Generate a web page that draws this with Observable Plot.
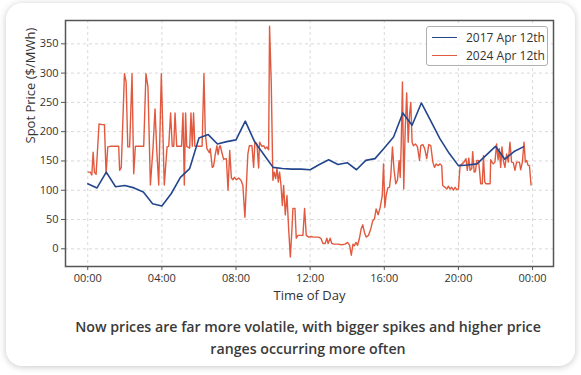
<!DOCTYPE html>
<html><head><meta charset="utf-8">
<script src="https://cdn.jsdelivr.net/npm/d3@7"></script>
<script src="https://cdn.jsdelivr.net/npm/@observablehq/plot@0.6"></script>
<style>
body{margin:0;background:#fff;font-family:"Open Sans",sans-serif;}
#wrap{position:relative;width:581px;height:375px;overflow:hidden;}
#card{position:absolute;left:6px;top:3px;width:569px;height:363px;border-radius:16px;background:#fff;box-shadow:0 1px 7px rgba(0,0,0,0.22);}
#chart{position:absolute;left:0;top:0;}
#legend{position:absolute;left:426px;top:26px;width:120px;height:38px;border:1px solid #b0b0b0;border-radius:3px;background:rgba(255,255,255,0.85);font-size:12px;color:#333;}
.row{position:absolute;left:0;height:18px;display:flex;align-items:center;white-space:nowrap;}
.sw{width:25px;height:0;border-top:1.6px solid;margin-left:5px;margin-right:9px;}
#caption{position:absolute;left:68px;width:480px;top:316px;text-align:center;font-size:14.2px;line-height:22px;color:#3a3a3a;font-weight:600;}
</style></head><body>
<div id="wrap">
  <div id="card"></div>
  <div id="chart"></div>
  <div id="legend"></div>
  <div id="caption">Now prices are far more volatile, with bigger spikes and higher price ranges occurring more often</div>
</div>
<script>
// Series names & colours
const seriesNames = ["2017 Apr 12th", "2024 Apr 12th"];
const seriesColors = ["#23468c", "#e15a3f"];

// 2017 Apr 12th (hour of day, $/MWh)
const t2017 = [0,0.5,1,1.5,2,2.5,3,3.5,4,4.5,5,5.5,6,6.5,7,7.5,8,8.5,9,9.5,10,10.5,11,11.5,12,12.5,13,13.5,14,14.5,15,15.5,16,16.5,17,17.5,18,18.5,19,19.5,20,20.5,21,21.5,22,22.5,23,23.5];
const p2017 = [111,104,131,106,108,104,97,77,73,94,122,137,189,195,179,183,186,218,183,161,139,137,136,136,135,144,152,144,147,135,151,154,172,191,232,211,249,219,188,163,142,143,145,160,175,153,166,174];

// 2024 Apr 12th (hour of day, $/MWh)
const t2024 = [0.02,0.14,0.22,0.29,0.36,0.45,0.61,0.77,0.9,0.99,1.08,1.22,1.67,1.72,1.81,1.98,2.07,2.16,2.26,2.39,2.48,2.57,3.02,3.14,3.25,3.38,3.52,3.63,3.72,3.83,3.97,4.13,4.28,4.37,4.47,4.56,4.64,4.71,4.8,5.06,5.14,5.21,5.28,5.34,5.5,5.57,5.64,5.71,5.78,6.17,6.27,6.34,6.43,6.56,6.61,6.72,6.79,6.88,6.97,7.03,7.1,7.15,7.24,7.33,7.48,7.57,7.66,7.75,7.84,7.91,8.02,8.14,8.27,8.37,8.48,8.55,8.64,8.72,8.86,8.95,9.02,9.13,9.22,9.27,9.4,9.5,9.58,9.67,9.76,9.81,9.9,9.99,10.06,10.14,10.21,10.28,10.35,10.42,10.5,10.57,10.66,10.75,10.84,10.93,11.02,11.07,11.18,11.25,11.34,11.61,11.7,11.79,11.92,12.04,12.18,12.33,12.45,12.58,12.69,12.81,12.9,12.97,13.08,13.17,13.3,13.48,13.71,13.89,14.02,14.13,14.22,14.31,14.38,14.47,14.56,14.66,14.75,14.84,14.93,15.02,15.15,15.27,15.38,15.47,15.56,15.67,15.78,15.89,15.96,16.03,16.1,16.19,16.28,16.35,16.44,16.53,16.62,16.71,16.8,16.86,16.91,16.98,17.05,17.13,17.21,17.29,17.36,17.43,17.5,17.57,17.68,17.79,17.9,17.97,18.08,18.18,18.29,18.4,18.51,18.62,18.71,18.8,18.9,19.01,19.1,19.15,19.28,19.37,19.46,19.55,19.64,19.73,19.82,19.91,20.0,20.09,20.2,20.3,20.41,20.48,20.56,20.63,20.72,20.77,20.85,20.92,20.99,21.08,21.13,21.2,21.29,21.35,21.42,21.49,21.71,21.74,21.81,21.88,21.97,22.06,22.14,22.21,22.28,22.35,22.42,22.51,22.6,22.69,22.78,22.87,22.96,23.05,23.14,23.29,23.36,23.45,23.54,23.61,23.68,23.75,23.83,23.92];
const p2024 = [131,131,126,165,131,127,213,212,212,128,174,175,175,134,139,299,285,174,174,299,128,175,175,299,276,109,171,239,171,109,299,109,174,175,232,175,175,232,175,175,232,109,232,175,172,232,175,232,175,175,299,199,171,164,171,139,141,161,176,161,174,176,164,153,154,100,168,121,118,122,118,121,117,108,54,102,162,176,176,139,183,179,138,182,175,176,171,174,169,380,285,117,131,120,137,114,131,111,74,108,58,91,34,-14,34,69,69,18,23,23,69,23,20,21,20,20,20,18,9,9,18,9,18,9,8,8,7,8,11,6,-11,8,5,11,6,18,34,41,28,20,23,34,48,51,68,58,71,91,145,71,91,104,105,124,174,134,111,117,151,122,174,285,102,205,266,182,228,250,182,176,179,174,151,176,178,171,154,178,176,148,139,145,142,145,142,108,105,102,107,102,105,100,105,101,102,142,145,148,154,134,155,134,137,166,131,132,151,151,137,111,111,159,114,111,111,152,148,145,148,179,152,171,139,174,151,139,162,148,182,148,147,134,148,148,135,148,182,148,151,143,142,109];

// Axis ticks & labels
const xTicks = [0,4,8,12,16,20,24];
const xTickLabels = ["00:00","04:00","08:00","12:00","16:00","20:00","00:00"];
const yTicks = [0,50,100,150,200,250,300,350];
const xLabel = "Time of Day";
const yLabel = "Spot Price ($/MWh)";

const d2017 = t2017.map((t,i)=>({t, v:p2017[i], s:seriesNames[0]}));
const d2024 = t2024.map((t,i)=>({t, v:p2024[i], s:seriesNames[1]}));

const chart = Plot.plot({
  width: 581,
  height: 310,
  marginLeft: 65,
  marginRight: 28,
  marginTop: 20,
  marginBottom: 44,
  style: {fontFamily: '"Open Sans", sans-serif', fontSize: "11px", color: "#333", background: "transparent", overflow: "visible"},
  x: {domain: [-1.2, 25.13]},
  y: {domain: [-30.2, 389.8]},
  marks: [
    Plot.gridX(xTicks, {stroke: "#cfcfcf", strokeOpacity: 1, strokeDasharray: "3,3", strokeWidth: 0.8}),
    Plot.gridY(yTicks, {stroke: "#cfcfcf", strokeOpacity: 1, strokeDasharray: "3,3", strokeWidth: 0.8}),
    Plot.line(d2024, {x: "t", y: "v", stroke: seriesColors[1], strokeWidth: 1.4}),
    Plot.line(d2017, {x: "t", y: "v", stroke: seriesColors[0], strokeWidth: 1.6}),
    Plot.axisX(xTicks, {tickFormat: (d,i)=>xTickLabels[i], tickSize: 4, tickPadding: 4, stroke: "#555", label: null, fontSize: 11}),
    Plot.axisY(yTicks, {tickSize: 4, tickPadding: 3, stroke: "#555", label: null, fontSize: 11}),
    Plot.text([xLabel], {frameAnchor: "bottom", dy: 29, fontSize: 13, fill: "#333", lineAnchor: "middle"}),
    Plot.text([yLabel], {frameAnchor: "left", dx: -35, rotate: -90, fontSize: 13, fill: "#333", lineAnchor: "middle"}),
    Plot.frame({stroke: "#555", strokeWidth: 1.5})
  ]
});
document.getElementById("chart").appendChild(chart);

const legend = document.getElementById("legend");
seriesNames.forEach((name, i) => {
  const row = document.createElement("div");
  row.className = "row";
  row.style.top = (i*18 + 1) + "px";
  const sw = document.createElement("span");
  sw.className = "sw";
  sw.style.borderTopColor = seriesColors[i];
  const tx = document.createElement("span");
  tx.textContent = name;
  row.appendChild(sw); row.appendChild(tx);
  legend.appendChild(row);
});
</script>
</body></html>
